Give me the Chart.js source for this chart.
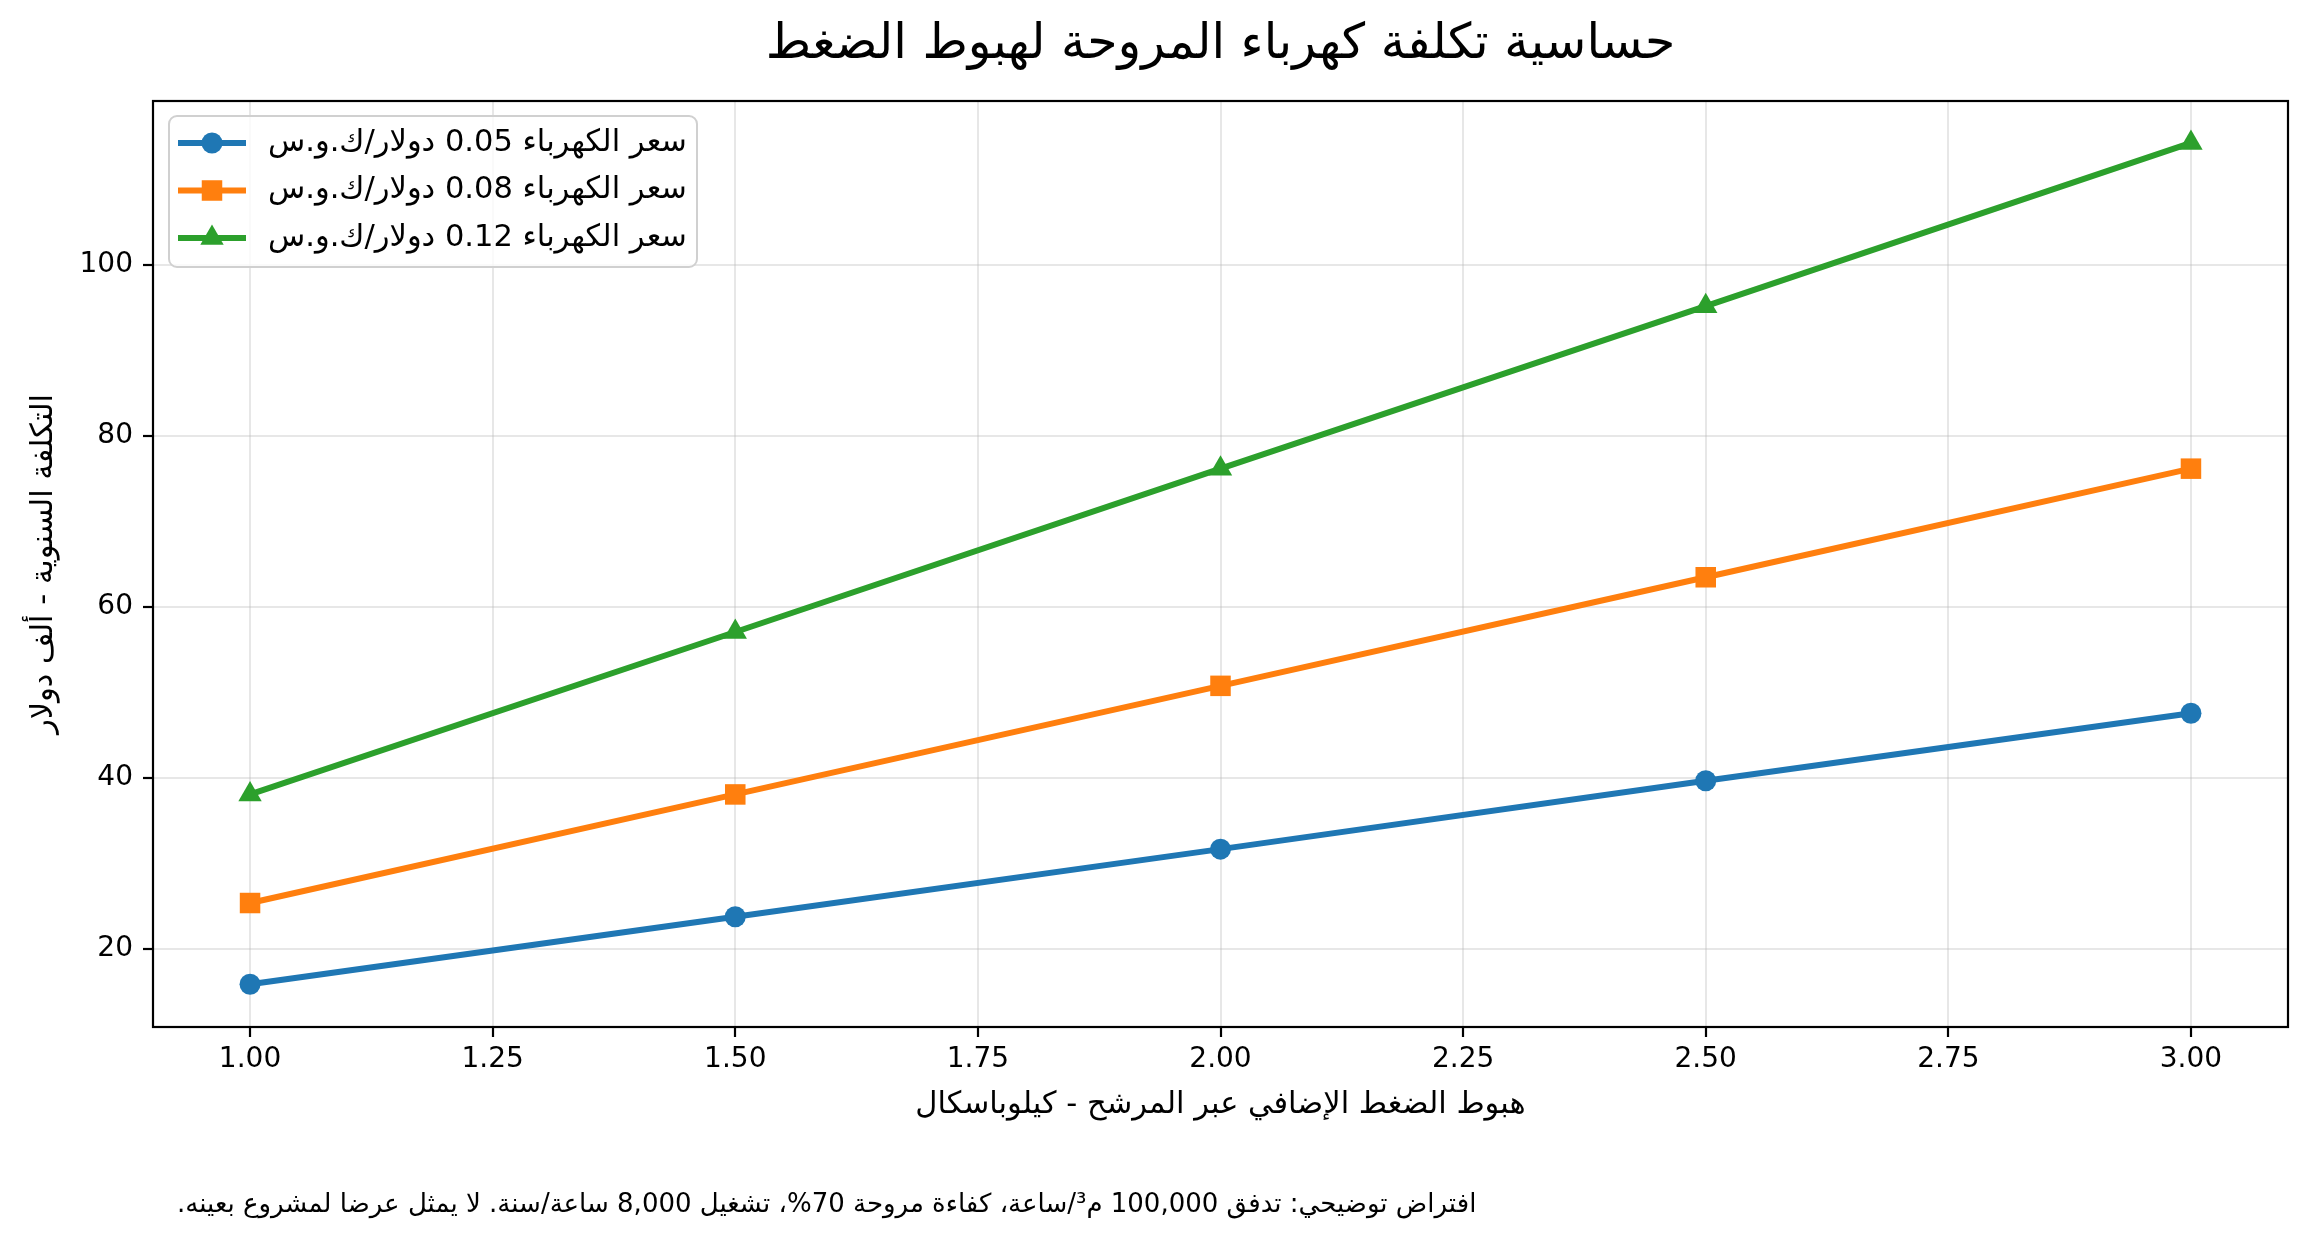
<!DOCTYPE html>
<html>
<head>
<meta charset="utf-8">
<script src="https://cdn.jsdelivr.net/npm/chart.js@4.4.1/dist/chart.umd.min.js"></script>
<style>
  html, body { margin: 0; padding: 0; background: #fff; }
  canvas { display: block; }
</style>
</head>
<body>
<canvas id="chart" width="2310" height="1241" dir="rtl"></canvas>
<script>
// pressure drop across the filter (kPa) and annual cost (thousand $)
const pressureDrop = [1.0, 1.5, 2.0, 2.5, 3.0];
const cost005 = [15.9, 23.8, 31.7, 39.7, 47.6];
const cost008 = [25.4, 38.1, 50.8, 63.5, 76.2];
const cost012 = [38.1, 57.1, 76.2, 95.2, 114.3];

const seriesLabels = [
    'سعر الكهرباء 0.05 دولار/ك.و.س',
    'سعر الكهرباء 0.08 دولار/ك.و.س',
    'سعر الكهرباء 0.12 دولار/ك.و.س'
];
const xTicks = [1.00, 1.25, 1.50, 1.75, 2.00, 2.25, 2.50, 2.75, 3.00];
const yTicks = [20, 40, 60, 80, 100];

const chartTitle = 'حساسية تكلفة كهرباء المروحة لهبوط الضغط';
const xTitle = 'هبوط الضغط الإضافي عبر المرشح - كيلوباسكال';
const yTitle = 'التكلفة السنوية - ألف دولار';
const footnote = 'افتراض توضيحي: تدفق 100,000 م³/ساعة، كفاءة مروحة 70%، تشغيل 8,000 ساعة/سنة. لا يمثل عرضا لمشروع بعينه.';

const FONT = "'DejaVu Sans', sans-serif";
const gridColor = 'rgba(176,176,176,0.3)';

function toPoints(ys) {
    return pressureDrop.map((x, i) => ({x: x, y: ys[i]}));
}

const datasets = [
    {label: seriesLabels[0], data: toPoints(cost005), borderColor: '#1f77b4', pointStyle: 'circle', pointRadius: 10.5},
    {label: seriesLabels[1], data: toPoints(cost008), borderColor: '#ff7f0e', pointStyle: 'rect', pointRadius: 14.5},
    {label: seriesLabels[2], data: toPoints(cost012), borderColor: '#2ca02c', pointStyle: 'triangle', pointRadius: 13.5}
].map(d => Object.assign(d, {
    backgroundColor: d.borderColor,
    borderWidth: 6,
    tension: 0,
    pointBorderWidth: 0,
    pointHoverRadius: d.pointRadius,
    pointBackgroundColor: d.borderColor
}));

// title over the axes, frame, matplotlib-style legend and footnote
const extras = {
    id: 'extras',
    afterDraw(chart) {
        const ctx = chart.ctx;
        const a = chart.chartArea;
        ctx.save();
        ctx.strokeStyle = '#000';
        ctx.lineWidth = 2.2;
        ctx.strokeRect(a.left, a.top, a.right - a.left, a.bottom - a.top);

        ctx.fillStyle = '#000';
        ctx.font = '49px ' + FONT;
        ctx.textAlign = 'center';
        ctx.textBaseline = 'middle';
        ctx.fillText(chartTitle, (a.left + a.right) / 2, 45);

        // legend box
        const bx = 169, by = 116, bw = 528, bh = 151;
        ctx.beginPath();
        ctx.roundRect(bx, by, bw, bh, 8);
        ctx.fillStyle = 'rgba(255,255,255,0.8)';
        ctx.fill();
        ctx.strokeStyle = '#d0d0d0';
        ctx.lineWidth = 2;
        ctx.stroke();

        chart.data.datasets.forEach((ds, i) => {
            const y = 143 + i * 47.5;
            ctx.strokeStyle = ds.borderColor;
            ctx.lineWidth = ds.borderWidth;
            ctx.beginPath();
            ctx.moveTo(178, y);
            ctx.lineTo(246, y);
            ctx.stroke();
            ctx.fillStyle = ds.borderColor;
            Chart.helpers.drawPoint(ctx, {pointStyle: ds.pointStyle, radius: ds.pointRadius, rotation: 0, borderWidth: 0}, 212, y);
            ctx.fillStyle = '#000';
            ctx.font = '30.5px ' + FONT;
            ctx.textAlign = 'left';
            ctx.textBaseline = 'middle';
            ctx.fillText(ds.label, 268, y);
        });

        ctx.fillStyle = '#000';
        ctx.font = '26px ' + FONT;
        ctx.textAlign = 'left';
        ctx.textBaseline = 'middle';
        ctx.fillText(footnote, 177, 1205);
        ctx.restore();
    }
};

const ctx = document.getElementById('chart').getContext('2d');
new Chart(ctx, {
    type: 'line',
    data: {datasets: datasets},
    options: {
        responsive: false,
        animation: false,
        devicePixelRatio: 1,
        layout: {padding: {top: 101, right: 22, bottom: 104, left: 0}},
        plugins: {
            legend: {display: false},
            tooltip: {enabled: false},
            title: {display: false}
        },
        scales: {
            x: {
                type: 'linear',
                min: 0.9,
                max: 3.1,
                afterBuildTicks: s => { s.ticks = xTicks.map(v => ({value: v})); },
                afterFit: s => { s.height = 110; },
                grid: {color: gridColor, lineWidth: 2, drawTicks: true, tickLength: 10, tickColor: '#000', tickWidth: 2.2},
                border: {display: false},
                ticks: {color: '#000', font: {family: FONT, size: 28}, padding: 6, maxRotation: 0, autoSkip: false,
                    callback: v => v.toFixed(2)},
                title: {display: true, text: xTitle, color: '#000', font: {family: FONT, size: 30.5}, padding: {top: 0, bottom: 14}}
            },
            y: {
                type: 'linear',
                min: 10.9,
                max: 119.2,
                afterBuildTicks: s => { s.ticks = yTicks.map(v => ({value: v})); },
                afterFit: s => { s.width = 153; },
                grid: {color: gridColor, lineWidth: 2, drawTicks: true, tickLength: 10, tickColor: '#000', tickWidth: 2.2},
                border: {display: false},
                ticks: {color: '#000', font: {family: FONT, size: 28}, padding: 10, autoSkip: false},
                title: {display: true, text: yTitle, color: '#000', font: {family: FONT, size: 30.5}, padding: {top: 26, bottom: 0}}
            }
        }
    },
    plugins: [extras]
});
</script>
</body>
</html>
